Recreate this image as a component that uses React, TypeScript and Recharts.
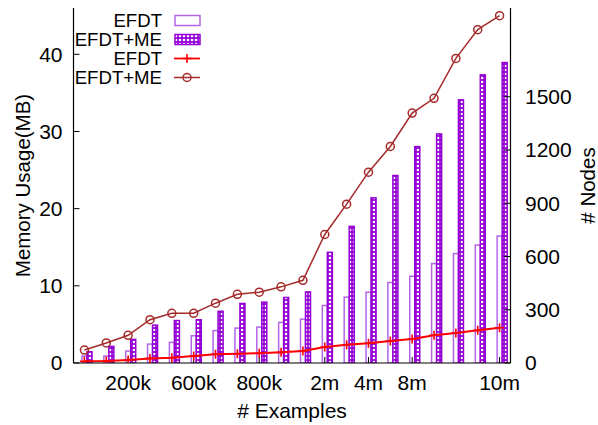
import React from "react";
import {
  ComposedChart,
  Bar,
  Line,
  XAxis,
  YAxis,
} from "recharts";

// ---- data ----
const categories = [
  "50k", "100k", "200k", "300k", "400k", "600k", "700k", "750k", "800k", "900k",
  "1m", "2m", "3m", "4m", "6m", "8m", "8.5m", "9m", "9.5m", "10m",
];
const xTickLabels = ["200k", "600k", "800k", "2m", "4m", "8m", "10m"];
const efdtMemory = [0.9, 0.9, 1.55, 2.45, 2.67, 3.53, 4.2, 4.52, 4.65, 5.26, 5.68, 7.45, 8.53, 9.17, 10.43, 11.24, 12.88, 14.17, 15.28, 16.45];
const efdtMeMemory = [1.46, 2.15, 3.06, 4.9, 5.5, 5.6, 6.7, 7.71, 7.88, 8.49, 9.21, 14.34, 17.7, 21.4, 24.29, 28.04, 29.68, 34.1, 37.34, 38.93];
const efdtNodes = [10, 11, 17, 26, 30, 39, 49, 52, 55, 60, 68, 90, 103, 111, 124, 135, 156, 169, 184, 199];
const efdtMeNodes = [73, 113, 156, 244, 280, 280, 337, 387, 399, 429, 466, 724, 895, 1075, 1220, 1408, 1491, 1716, 1878, 1957];
const memoryTicks = [0, 10, 20, 30, 40];
const memoryMirrorTicks = [10, 20, 30, 40];
const nodeTicks = [0, 300, 600, 900, 1200, 1500];
const memoryDomain = [0, 46];
const nodeDomain = [0, 2000];

const data = categories.map((c, i) => ({
  label: c,
  efdtMB: efdtMemory[i],
  efdtMeMB: efdtMeMemory[i],
  efdtN: efdtNodes[i],
  efdtMeN: efdtMeNodes[i],
}));

const FONT = "'Liberation Sans', Arial, Helvetica, sans-serif";
const PURPLE = "#9400d3";
const LIGHT_PURPLE = "#b366e8";
const RED = "#ff0000";
const BROWN = "#a52a2a";
const BAR_SHIFT = 2.5;

const EfdtBarShape = (props: any) => {
  const { x, y, width, height } = props;
  if (height == null || height <= 0) return null;
  return (
    <rect x={x + BAR_SHIFT} y={y} width={width} height={height} fill="white" stroke={LIGHT_PURPLE} strokeWidth={1.5} />
  );
};

const EfdtMeBarShape = (props: any) => {
  const { x, y, width, height } = props;
  if (height == null || height <= 0) return null;
  return (
    <rect x={x + BAR_SHIFT} y={y} width={width} height={height} fill="url(#hatch)" stroke={PURPLE} strokeWidth={1.5} />
  );
};

const PlusDot = (props: any) => {
  const { cx, cy, index } = props;
  if (cx == null || cy == null) return null;
  return (
    <path key={`p${index}`} d={`M${cx - 4.5},${cy}h9M${cx},${cy - 4.5}v9`} stroke={RED} strokeWidth={1.6} fill="none" />
  );
};

const tickStyle = { fontSize: 21, fill: "#000", fontFamily: FONT };

const LegendBox = () => {
  const rows = [
    { label: "EFDT", kind: "bar" },
    { label: "EFDT+ME", kind: "hatch" },
    { label: "EFDT", kind: "plus" },
    { label: "EFDT+ME", kind: "circle" },
  ];
  return (
    <div style={{ position: "absolute", left: 60, top: 11, fontFamily: FONT, fontSize: 18.6, color: "#000" }}>
      {rows.map((r, i) => (
        <div key={i} style={{ display: "flex", alignItems: "center", height: 19 }}>
          <div style={{ width: 102, textAlign: "right", lineHeight: "19px", whiteSpace: "nowrap" }}>{r.label}</div>
          <svg width={40} height={19} style={{ marginLeft: 12 }}>
            {r.kind === "bar" && <rect x={1} y={4.5} width={25} height={10} fill="white" stroke={LIGHT_PURPLE} strokeWidth={1.5} />}
            {r.kind === "hatch" && <rect x={1} y={4.5} width={25} height={10} fill="url(#hatch)" stroke={PURPLE} strokeWidth={1.5} />}
            {r.kind === "plus" && (
              <g>
                <line x1={0} y1={9.5} x2={26} y2={9.5} stroke={RED} strokeWidth={1.8} />
                <path d="M8.5,9.5h9M13,5v9" stroke={RED} strokeWidth={1.6} />
              </g>
            )}
            {r.kind === "circle" && (
              <g>
                <line x1={0} y1={9.5} x2={26} y2={9.5} stroke={BROWN} strokeWidth={1.5} />
                <circle cx={13} cy={9.5} r={4} fill="none" stroke={BROWN} strokeWidth={1.5} />
              </g>
            )}
          </svg>
        </div>
      ))}
    </div>
  );
};

export default function App() {
  return (
    <div style={{ position: "absolute", left: 0, top: 0, width: 598, height: 425, background: "#fff" }}>
      <ComposedChart
        width={598}
        height={425}
        data={data}
        margin={{ top: 8, right: 0, bottom: 0, left: 0 }}
        barGap={0}
        barSize={5}
      >
        <defs>
          <pattern id="hatch" width="4" height="4" patternUnits="userSpaceOnUse">
            <rect width="4" height="4" fill={PURPLE} />
            <circle cx="2" cy="2" r="1.35" fill="#ffffff" />
          </pattern>
        </defs>
        <XAxis
          dataKey="label"
          xAxisId="bottom"
          ticks={xTickLabels}
          interval={0}
          tickSize={-6}
          tickMargin={18}
          height={62}
          axisLine={{ stroke: "#000", strokeWidth: 1.2 }}
          tickLine={{ stroke: "#000" }}
          tick={tickStyle}
          label={(p: any) => {
            const vb = p.viewBox || {};
            return (
              <text x={vb.x + vb.width / 2} y={vb.y + 47} textAnchor="middle" dominantBaseline="central" style={{ fontSize: 21, fontFamily: FONT, fill: "#000" }}>
                # Examples
              </text>
            );
          }}
        />
        <XAxis
          dataKey="label"
          xAxisId="top"
          orientation="top"
          ticks={xTickLabels}
          interval={0}
          tickSize={-6}
          height={0}
          axisLine={{ stroke: "#000", strokeWidth: 1.2 }}
          tickLine={{ stroke: "#000" }}
          tickFormatter={() => ""}
        />
        <YAxis
          yAxisId="mem"
          orientation="left"
          type="number"
          domain={memoryDomain}
          ticks={memoryTicks}
          allowDataOverflow
          width={73.5}
          tickSize={-6}
          tickMargin={17}
          axisLine={{ stroke: "#000", strokeWidth: 1.2 }}
          tickLine={{ stroke: "#000" }}
          tick={tickStyle}
          label={(p: any) => {
            const vb = p.viewBox || {};
            const cx = vb.x + 22;
            const cy = vb.y + vb.height / 2;
            return (
              <text x={cx} y={cy} transform={`rotate(-90, ${cx}, ${cy})`} textAnchor="middle" dominantBaseline="central" style={{ fontSize: 20.5, fontFamily: FONT, fill: "#000" }}>
                Memory Usage(MB)
              </text>
            );
          }}
        />
        <YAxis
          yAxisId="memMirror"
          orientation="right"
          type="number"
          domain={memoryDomain}
          ticks={memoryMirrorTicks}
          allowDataOverflow
          width={0}
          tickSize={-6}
          axisLine={false}
          tickLine={{ stroke: "#000" }}
          tickFormatter={() => ""}
        />
        <YAxis
          yAxisId="nodes"
          orientation="right"
          type="number"
          domain={nodeDomain}
          ticks={nodeTicks}
          allowDataOverflow
          width={87.5}
          tickSize={-6}
          tickMargin={20.5}
          axisLine={{ stroke: "#000", strokeWidth: 1.2 }}
          tickLine={{ stroke: "#000" }}
          tick={tickStyle}
          label={(p: any) => {
            const vb = p.viewBox || {};
            const cx = vb.x + 77;
            const cy = vb.y + vb.height / 2;
            return (
              <text x={cx} y={cy} transform={`rotate(-90, ${cx}, ${cy})`} textAnchor="middle" dominantBaseline="central" style={{ fontSize: 20.5, fontFamily: FONT, fill: "#000" }}>
                # Nodes
              </text>
            );
          }}
        />
        <Bar dataKey="efdtMB" xAxisId="bottom" yAxisId="mem" shape={EfdtBarShape} isAnimationActive={false} />
        <Bar dataKey="efdtMeMB" xAxisId="bottom" yAxisId="mem" shape={EfdtMeBarShape} isAnimationActive={false} />
        <Line
          dataKey="efdtN"
          xAxisId="bottom"
          yAxisId="nodes"
          stroke={RED}
          strokeWidth={2}
          dot={PlusDot}
          activeDot={false}
          isAnimationActive={false}
        />
        <Line
          dataKey="efdtMeN"
          xAxisId="bottom"
          yAxisId="nodes"
          stroke={BROWN}
          strokeWidth={1.5}
          dot={{ r: 4, stroke: BROWN, strokeWidth: 1.5, fill: "none" }}
          activeDot={false}
          isAnimationActive={false}
        />
      </ComposedChart>
      <LegendBox />
    </div>
  );
}
